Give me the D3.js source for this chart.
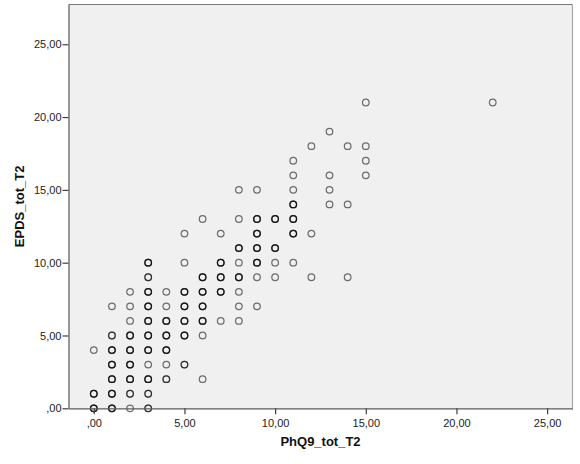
<!DOCTYPE html>
<html>
<head>
<meta charset="utf-8">
<script src="https://cdn.jsdelivr.net/npm/d3@7"></script>
<style>
  html, body { margin: 0; padding: 0; background: #ffffff; }
  svg { display: block; }
</style>
</head>
<body>
<svg id="chart" width="580" height="464"></svg>
<script>
// ---- data ----
// PhQ9_tot_T2 value, EPDS_tot_T2 value, and an overlap weight (darker circle = more cases)
const phq  = [0,0,0, 1,1,1,1,1,1,1, 2,2,2,2,2,2,2,2,2, 3,3,3,3,3,3,3,3,3,3,3, 4,4,4,4,4,4,4, 5,5,5,5,5,5,5, 6,6,6,6,6,6,6, 7,7,7,7,7, 8,8,8,8,8,8,8,8, 9,9,9,9,9,9,9, 10,10,10,10, 11,11,11,11,11,11,11, 12,12,12, 13,13,13,13, 14,14,14, 15,15,15,15, 22];
const epds = [0,1,4, 0,1,2,3,4,5,7, 0,1,2,3,4,5,6,7,8, 0,1,2,3,4,5,6,7,8,9,10, 2,3,4,5,6,7,8, 3,5,6,7,8,10,12, 2,5,6,7,8,9,13, 6,8,9,10,12, 6,7,8,9,10,11,13,15, 7,9,10,11,12,13,15, 9,10,11,13, 10,12,13,14,15,16,17, 9,12,18, 14,15,16,19, 9,14,18, 16,17,18,21, 21];
const weight = [3,3,1, 3,3,3,3,3,2,1, 1,2,3,3,3,3,1,1,1, 2,2,3,1,3,3,3,3,3,2,3, 2,1,3,3,3,1,1, 2,3,3,3,3,1,1, 1,1,3,3,3,3,1, 1,3,3,3,1, 1,1,1,3,1,3,1,1, 1,1,3,3,3,3,1, 1,1,3,3, 1,3,3,3,1,1,1, 1,1,1, 1,1,1,1, 1,1,1, 1,1,1,1, 1];
const xTicks = [0, 5, 10, 15, 20, 25];
const yTicks = [0, 5, 10, 15, 20, 25];
const xTitle = "PhQ9_tot_T2";
const yTitle = "EPDS_tot_T2";

// ---- layout ----
const plot = { left: 68.5, right: 572.5, top: 4.5, bottom: 408.3 };
const svg = d3.select("#chart");

const x = d3.scaleLinear().domain([-1.395, 26.4]).range([plot.left, plot.right]);
const y = d3.scaleLinear().domain([0, 27.73]).range([plot.bottom, plot.top]);

const fmt = d => d === 0 ? ",00" : d.toFixed(2).replace(".", ",");

// background
svg.append("rect")
  .attr("x", plot.left).attr("y", plot.top)
  .attr("width", plot.right - plot.left).attr("height", plot.bottom - plot.top)
  .attr("fill", "#f0f0f0");

// points
const pts = phq.map((v, i) => ({ x: v, y: epds[i], w: weight[i] }));
const layer = [];
pts.forEach(p => { for (let k = 0; k < p.w; k++) layer.push(p); });
svg.append("g")
  .selectAll("circle").data(layer).join("circle")
  .attr("cx", d => x(d.x))
  .attr("cy", d => y(d.y))
  .attr("r", 3.3)
  .attr("fill", "none")
  .attr("stroke", "#000")
  .attr("stroke-opacity", 0.55)
  .attr("stroke-width", 1.25);

// frame: top and right borders (lighter on the right)
svg.append("line")
  .attr("x1", plot.left).attr("x2", plot.right)
  .attr("y1", plot.top).attr("y2", plot.top)
  .attr("stroke", "#7a7a7a").attr("stroke-width", 1.2);
svg.append("line")
  .attr("x1", plot.right).attr("x2", plot.right)
  .attr("y1", plot.top).attr("y2", plot.bottom)
  .attr("stroke", "#a8a8a8").attr("stroke-width", 1.2);

// axes
const xAxis = d3.axisBottom(x).tickValues(xTicks).tickFormat(fmt).tickSize(6).tickSizeOuter(0);
const yAxis = d3.axisLeft(y).tickValues(yTicks).tickFormat(fmt).tickSize(6).tickSizeOuter(0);

const gx = svg.append("g").attr("transform", `translate(0,${plot.bottom})`).call(xAxis);
const gy = svg.append("g").attr("transform", `translate(${plot.left},0)`).call(yAxis);

[gx, gy].forEach(g => {
  g.select(".domain").attr("stroke", "#5a5a5a").attr("stroke-width", 1.2);
  g.selectAll(".tick line").attr("stroke", "#404040").attr("stroke-width", 1.2);
  g.selectAll(".tick text")
    .attr("font-family", "'Liberation Sans', Arial, sans-serif")
    .attr("font-size", "11px")
    .attr("fill", "#222");
});
gx.selectAll(".tick text").attr("dy", "0.9em");
gy.selectAll(".tick text").attr("x", -7);

// titles
svg.append("text")
  .attr("x", (plot.left + plot.right) / 2)
  .attr("y", 446)
  .attr("text-anchor", "middle")
  .attr("font-family", "'Liberation Sans', Arial, sans-serif")
  .attr("font-weight", "bold")
  .attr("font-size", "13px")
  .attr("fill", "#111")
  .text(xTitle);

svg.append("text")
  .attr("transform", `translate(24,${(plot.top + plot.bottom) / 2}) rotate(-90)`)
  .attr("text-anchor", "middle")
  .attr("font-family", "'Liberation Sans', Arial, sans-serif")
  .attr("font-weight", "bold")
  .attr("font-size", "13px")
  .attr("fill", "#111")
  .text(yTitle);
</script>
</body>
</html>
